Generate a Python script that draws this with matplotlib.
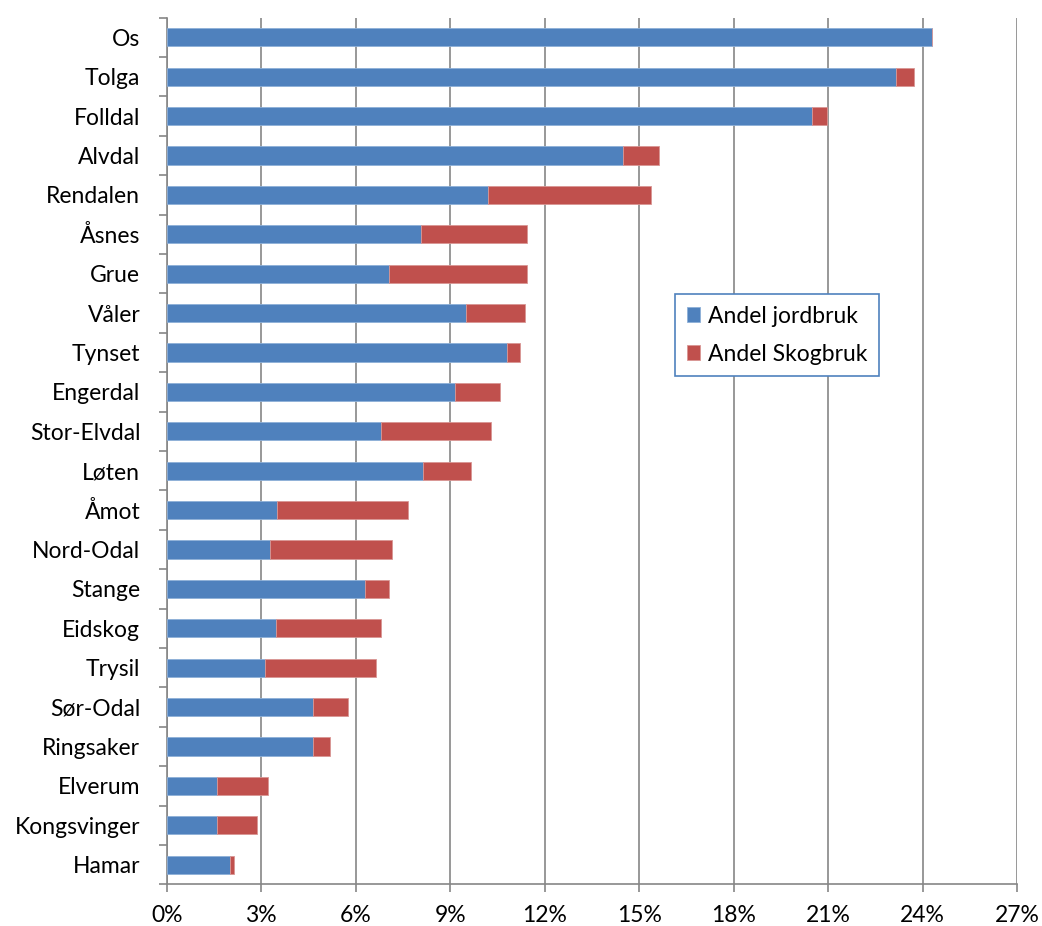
import matplotlib
matplotlib.use("Agg")
import matplotlib.pyplot as plt
from matplotlib.ticker import FuncFormatter, FixedLocator
import numpy as np

categories = ["Os", "Tolga", "Folldal", "Alvdal", "Rendalen", "Åsnes", "Grue", "Våler",
              "Tynset", "Engerdal", "Stor-Elvdal", "Løten", "Åmot", "Nord-Odal", "Stange",
              "Eidskog", "Trysil", "Sør-Odal", "Ringsaker", "Elverum", "Kongsvinger", "Hamar"]
jordbruk = [24.30, 23.15, 20.48, 14.50, 10.21, 8.08, 7.06, 9.51, 10.81, 9.16, 6.81, 8.14,
            3.50, 3.28, 6.30, 3.47, 3.12, 4.64, 4.64, 1.59, 1.59, 2.00]
skogbruk = [0.00, 0.58, 0.48, 1.12, 5.18, 3.37, 4.39, 1.88, 0.42, 1.43, 3.50, 1.53,
            4.17, 3.88, 0.76, 3.34, 3.53, 1.12, 0.54, 1.62, 1.27, 0.13]
x_ticks = [0, 3, 6, 9, 12, 15, 18, 21, 24, 27]

plt.rcParams['font.family'] = ['Lato', 'DejaVu Sans']

fig = plt.figure(figsize=(10.42, 9.26), dpi=100)
ax = fig.add_axes([0.160, 0.045, 0.816, 0.936])

y = np.arange(len(categories))
blue = "#4F81BD"
red = "#C0504D"
ax.barh(y, jordbruk, height=0.46, color=blue, edgecolor="#8EB0D8", linewidth=0.6,
        label="Andel jordbruk", zorder=3)
ax.barh(y, skogbruk, left=jordbruk, height=0.46, color=red, edgecolor="#D99694",
        linewidth=0.6, label="Andel Skogbruk", zorder=3)

ax.set_ylim(len(categories) - 0.5, -0.5)
ax.set_xlim(0, 27)
ax.set_yticks(y)
ax.set_yticklabels(categories, fontsize=16.5)
ax.yaxis.set_minor_locator(FixedLocator(np.arange(-0.5, len(categories), 1)))
ax.tick_params(axis="y", which="major", length=0, pad=19)
ax.tick_params(axis="y", which="minor", length=6, color="#868686", width=1.2)
ax.set_xticks(x_ticks)
ax.xaxis.set_major_formatter(FuncFormatter(lambda v, p: f"{int(v)}%"))
ax.tick_params(axis="x", labelsize=16.5, length=6, color="#868686", width=1.2, pad=9)

ax.grid(axis="x", color="#868686", linewidth=1.2, zorder=0)
for s in ["top", "right"]:
    ax.spines[s].set_visible(False)
for s in ["left", "bottom"]:
    ax.spines[s].set_color("#868686")
    ax.spines[s].set_linewidth(1.2)

leg = ax.legend(loc="upper left", bbox_to_anchor=(0.598, 0.681), fontsize=16.5,
                frameon=True, fancybox=False, handlelength=0.6, handleheight=0.6,
                handletextpad=0.35, borderpad=0.5, labelspacing=0.75, borderaxespad=0)
leg.get_frame().set_edgecolor("#4F81BD")
leg.get_frame().set_linewidth(1.2)
leg.get_frame().set_alpha(1)

fig.savefig("out.png", dpi=100)
